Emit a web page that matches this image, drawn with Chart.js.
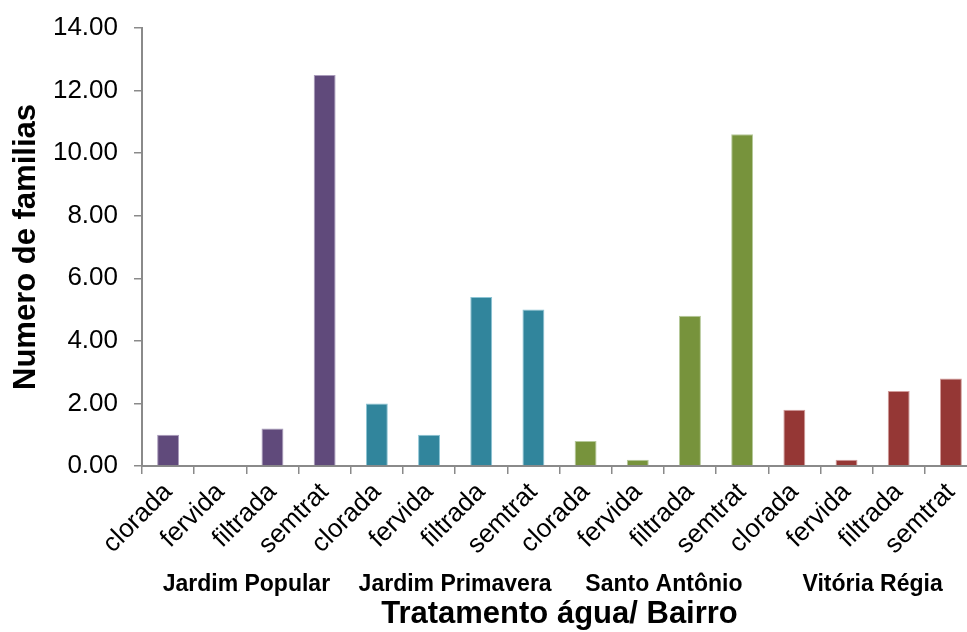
<!DOCTYPE html>
<html>
<head>
<meta charset="utf-8">
<script src="https://cdn.jsdelivr.net/npm/chart.js@4/dist/chart.umd.min.js"></script>
<style>
  html, body { margin: 0; padding: 0; background: #fff; overflow: hidden; }
  #wrap { width: 967px; height: 632px; overflow: hidden; position: relative; }
  #box { position: absolute; left: 0; top: 0; width: 990px; height: 632px; }
</style>
</head>
<body>
<div id="wrap"><div id="box"><canvas id="c" width="990" height="632"></canvas></div></div>
<script>
// Water treatment per household, grouped by neighbourhood
const treatments = ['clorada', 'fervida', 'filtrada', 'semtrat'];
const neighbourhoods = ['Jardim Popular', 'Jardim Primavera', 'Santo Antônio', 'Vitória Régia'];

const jardimPopular   = [1.0, 0.0, 1.2, 12.5];
const jardimPrimavera = [2.0, 1.0, 5.4, 5.0];
const santoAntonio    = [0.8, 0.2, 4.8, 10.6];
const vitoriaRegia    = [1.8, 0.2, 2.4, 2.8];

const yTickValues = [0, 2, 4, 6, 8, 10, 12, 14];

const groupColors = ['#604a7b', '#31859c', '#77933c', '#953735'];
const groupEdges  = ['#a99bbb', '#8cc4d4', '#b6c99a', '#d29c9a'];

const xTitle = 'Tratamento água/ Bairro';
const yTitle = 'Numero de familias';

// Flatten groups into one category axis
const groups = [jardimPopular, jardimPrimavera, santoAntonio, vitoriaRegia];
const labels = [];
const values = [];
const fills = [];
const edges = [];
groups.forEach((g, gi) => {
  g.forEach((v, ti) => {
    labels.push(treatments[ti]);
    values.push(v);
    fills.push(groupColors[gi]);
    edges.push(groupEdges[gi]);
  });
});

const FONT = "'Liberation Sans', Arial, Helvetica, sans-serif";
const AXIS_GRAY = '#8a8a8a';

// Second row of category labels (neighbourhoods) and the x-axis title
const groupLabelPlugin = {
  id: 'groupLabels',
  afterDraw(chart) {
    const ctx = chart.ctx;
    const xs = chart.scales.x;
    ctx.save();
    ctx.fillStyle = '#000';
    ctx.textAlign = 'center';
    ctx.textBaseline = 'alphabetic';
    ctx.font = 'bold 23px ' + FONT;
    neighbourhoods.forEach((name, gi) => {
      const first = xs.getPixelForValue(gi * 4);
      const last = xs.getPixelForValue(gi * 4 + 3);
      ctx.fillText(name, (first + last) / 2, 591);
    });
    ctx.font = 'bold 31px ' + FONT;
    const ca = chart.chartArea;
    ctx.fillText(xTitle, (ca.left + ca.right) / 2, 623);
    ctx.restore();
  }
};

new Chart(document.getElementById('c'), {
  type: 'bar',
  data: {
    labels: labels,
    datasets: [{
      data: values,
      backgroundColor: fills,
      borderColor: edges,
      borderWidth: 1,
      categoryPercentage: 1.0,
      barPercentage: 0.42
    }]
  },
  options: {
    responsive: false,
    devicePixelRatio: 1,
    animation: false,
    layout: { padding: { top: 28, right: 13, bottom: 0, left: 0 } },
    plugins: {
      legend: { display: false },
      tooltip: { enabled: false }
    },
    scales: {
      x: {
        grid: {
          display: true,
          drawOnChartArea: false,
          drawTicks: true,
          tickLength: 8,
          color: AXIS_GRAY,
          lineWidth: 1.5,
          offset: true
        },
        border: { display: true, color: AXIS_GRAY, width: 2 },
        ticks: {
          color: '#000',
          font: { family: FONT, size: 26 },
          minRotation: 45,
          maxRotation: 45,
          padding: 3,
          autoSkip: false
        },
        afterFit(s) { s.height = 632 - 466; }
      },
      y: {
        min: 0,
        max: 14,
        afterBuildTicks(s) { s.ticks = yTickValues.map(v => ({ value: v })); },
        grid: {
          display: true,
          drawOnChartArea: false,
          drawTicks: true,
          tickLength: 8,
          color: AXIS_GRAY,
          lineWidth: 1.5
        },
        border: { display: true, color: AXIS_GRAY, width: 2 },
        ticks: {
          color: '#000',
          font: { family: FONT, size: 26 },
          padding: 16,
          callback: v => Number(v).toFixed(2)
        },
        title: {
          display: true,
          text: yTitle,
          color: '#000',
          font: { family: FONT, size: 31, weight: 'bold' },
          padding: { top: 8, bottom: 0 }
        },
        afterFit(s) {
          s.width = 142;
          s.paddingTop = 0;
          s.paddingBottom = 0;
        }
      }
    }
  },
  plugins: [groupLabelPlugin]
});
</script>
</body>
</html>
